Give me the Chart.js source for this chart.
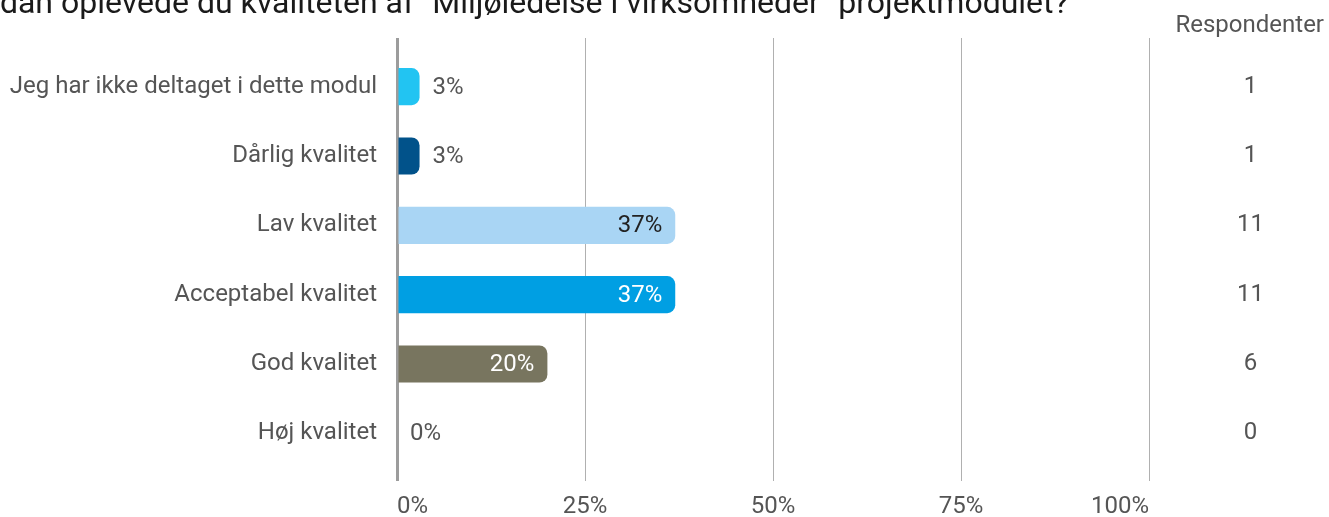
<!DOCTYPE html>
<html>
<head>
<meta charset="utf-8">
<script src="https://cdn.jsdelivr.net/npm/chart.js@4/dist/chart.umd.min.js"></script>
<style>
html,body{margin:0;padding:0;background:#fff;overflow:hidden;width:1329px;height:517px;position:relative}
#wrap{position:absolute;left:-67px;top:-20px;width:1391px;height:537px}
#c{display:block;width:1391px;height:537px}
</style>
</head>
<body>
<div id="wrap"><canvas id="c" width="1391" height="537"></canvas></div>
<script>
const titleText = 'Hvordan oplevede du kvaliteten af "Miljøledelse i virksomheder" projektmodulet?';
const countHeader = 'Respondenter';
const categories = ['Jeg har ikke deltaget i dette modul', 'Dårlig kvalitet', 'Lav kvalitet', 'Acceptabel kvalitet', 'God kvalitet', 'Høj kvalitet'];
const percentages = [3, 3, 37, 37, 20, 0];
const respondents = [1, 1, 11, 11, 6, 0];
const xTickValues = [0, 25, 50, 75, 100];
const xTickLabels = ['0%', '25%', '50%', '75%', '100%'];

const barColors = ['#22C4F2', '#01528A', '#A9D5F4', '#009FE3', '#78755F', '#78755F'];
const insideLabelColors = ['#ffffff', '#ffffff', '#222222', '#ffffff', '#ffffff', '#ffffff'];

Chart.defaults.font.family = 'Roboto';

const valueLabels = {
  id: 'valueLabels',
  afterDatasetsDraw(chart) {
    const ctx = chart.ctx;
    const meta = chart.getDatasetMeta(0);
    ctx.save();
    ctx.font = '24px Roboto';
    ctx.textBaseline = 'middle';
    meta.data.forEach((bar, i) => {
      const txt = percentages[i] + '%';
      const w = ctx.measureText(txt).width;
      const len = Math.abs(bar.x - bar.base);
      if (len > w + 30) {
        ctx.textAlign = 'right';
        ctx.fillStyle = insideLabelColors[i];
        ctx.fillText(txt, bar.x - 13, bar.y + 1);
      } else {
        ctx.textAlign = 'left';
        ctx.fillStyle = '#555555';
        ctx.fillText(txt, bar.x + 13, bar.y + 1);
      }
    });
    ctx.restore();
  }
};

const gridColor = c => (c.tick && c.tick.value === 0) ? '#9c9c9c' : '#b0b0b0';
const gridWidth = c => (c.tick && c.tick.value === 0) ? 3 : 1;
const setTicks = s => { s.ticks = xTickValues.map(v => ({ value: v })); };

new Chart(document.getElementById('c'), {
  type: 'bar',
  data: {
    labels: categories,
    datasets: [{
      data: percentages,
      backgroundColor: barColors,
      borderRadius: 8,
      borderSkipped: 'start',
      barPercentage: 0.535,
      categoryPercentage: 1
    }]
  },
  options: {
    indexAxis: 'y',
    responsive: false,
    maintainAspectRatio: false,
    animation: false,
    layout: { padding: 0 },
    plugins: {
      legend: { display: false },
      tooltip: { enabled: false },
      title: {
        display: true, text: titleText, align: 'start', color: '#1a1a1a',
        font: { size: 32, weight: 'normal', lineHeight: '10px' },
        padding: { top: 20, bottom: 0 }
      },
      subtitle: {
        display: true, text: countHeader, align: 'end', color: '#555555',
        font: { size: 24, weight: 'normal', lineHeight: '24px' },
        padding: { top: 4, bottom: 0 }
      }
    },
    scales: {
      x: {
        type: 'linear', position: 'bottom', min: 0, max: 100,
        afterBuildTicks: setTicks,
        ticks: { callback: (v, i) => xTickLabels[i], align: 'inner', color: '#555555', font: { size: 24 }, padding: 12, maxRotation: 0, autoSkip: false },
        grid: { color: gridColor, lineWidth: gridWidth, tickLength: 13, drawTicks: true },
        border: { display: false },
        afterFit(s) { s.height = 49; s.paddingLeft = 0; s.paddingRight = 0; }
      },
      x2: {
        type: 'linear', position: 'top', min: 0, max: 100,
        afterBuildTicks: setTicks,
        ticks: { display: false },
        grid: { drawOnChartArea: false, color: gridColor, lineWidth: gridWidth, tickLength: 14, drawTicks: true },
        border: { display: false },
        afterFit(s) { s.height = 14; s.paddingLeft = 0; s.paddingRight = 0; }
      },
      y: {
        type: 'category', position: 'left',
        grid: { display: false, drawTicks: false },
        border: { display: false },
        ticks: { color: '#555555', font: { size: 24 }, padding: 20 },
        afterFit(s) { s.width = 464; s.paddingTop = 0; s.paddingBottom = 0; }
      },
      y2: {
        type: 'category', position: 'right', offset: true,
        labels: respondents.map(String),
        grid: { display: false, drawTicks: false },
        border: { display: false },
        ticks: { color: '#555555', font: { size: 24 }, padding: 88, crossAlign: 'center' },
        afterFit(s) { s.width = 175; s.paddingTop = 0; s.paddingBottom = 0; }
      }
    }
  },
  plugins: [valueLabels]
});
</script>
</body>
</html>
